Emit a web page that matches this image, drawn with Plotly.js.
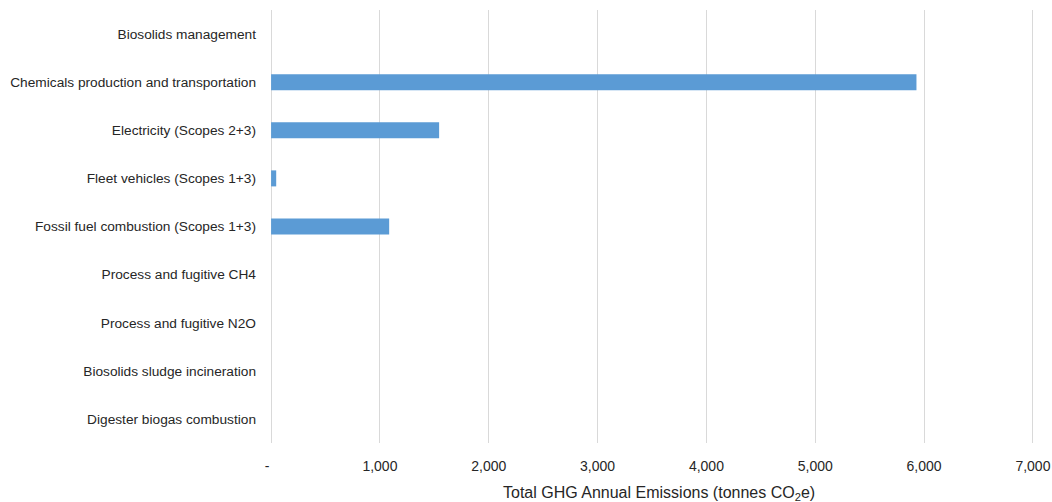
<!DOCTYPE html>
<html>
<head>
<meta charset="utf-8">
<script src="https://cdn.plot.ly/plotly-3.0.1.min.js"></script>
<style>html,body{margin:0;padding:0;background:#fff;}#chart{width:1052px;height:502px;}</style>
</head>
<body>
<div id="chart"></div>
<script>
const categories = [
  "Biosolids management",
  "Chemicals production and transportation",
  "Electricity (Scopes 2+3)",
  "Fleet vehicles (Scopes 1+3)",
  "Fossil fuel combustion (Scopes 1+3)",
  "Process and fugitive CH4",
  "Process and fugitive N2O",
  "Biosolids sludge incineration",
  "Digester biogas combustion"
];
const emissions = [0, 5930, 1544, 47, 1085, 0, 0, 0, 0];
const xTickVals = [0, 1000, 2000, 3000, 4000, 5000, 6000, 7000];
const xTickText = ["-\u00a0\u00a0", "1,000", "2,000", "3,000", "4,000", "5,000", "6,000", "7,000"];
const xAxisTitle = 'Total GHG Annual Emissions (tonnes CO<sub>2</sub>e)';

const trace = {
  type: 'bar',
  orientation: 'h',
  y: categories,
  x: emissions,
  marker: {color: '#5B9BD5', line: {width: 0}},
  hoverinfo: 'x+y'
};

const layout = {
  width: 1052,
  height: 502,
  margin: {l: 269.5, r: 18.3, t: 10, b: 59},
  paper_bgcolor: '#ffffff',
  plot_bgcolor: '#ffffff',
  font: {family: '"Liberation Sans", Arial, sans-serif', size: 14, color: '#262626'},
  bargap: 0.667,
  showlegend: false,
  xaxis: {
    range: [-10, 7010],
    tickvals: xTickVals,
    ticktext: xTickText,
    showgrid: true,
    gridcolor: '#d9d9d9',
    gridwidth: 1,
    zeroline: false,
    showline: false,
    ticks: '',
    ticklabelstandoff: 13,
    tickfont: {size: 14, color: '#262626'}
  },
  yaxis: {
    type: 'category',
    autorange: 'reversed',
    showgrid: false,
    zeroline: false,
    showline: false,
    ticks: '',
    ticklabelstandoff: 13,
    tickfont: {size: 13.7, color: '#262626'}
  },
  annotations: [{
    text: xAxisTitle,
    xref: 'paper', yref: 'paper',
    x: 0.5, y: 0,
    xanchor: 'center', yanchor: 'middle',
    xshift: 7, yshift: -50,
    showarrow: false,
    font: {size: 16, color: '#262626'}
  }]
};

Plotly.newPlot('chart', [trace], layout, {displayModeBar: false, staticPlot: true});
</script>
</body>
</html>
